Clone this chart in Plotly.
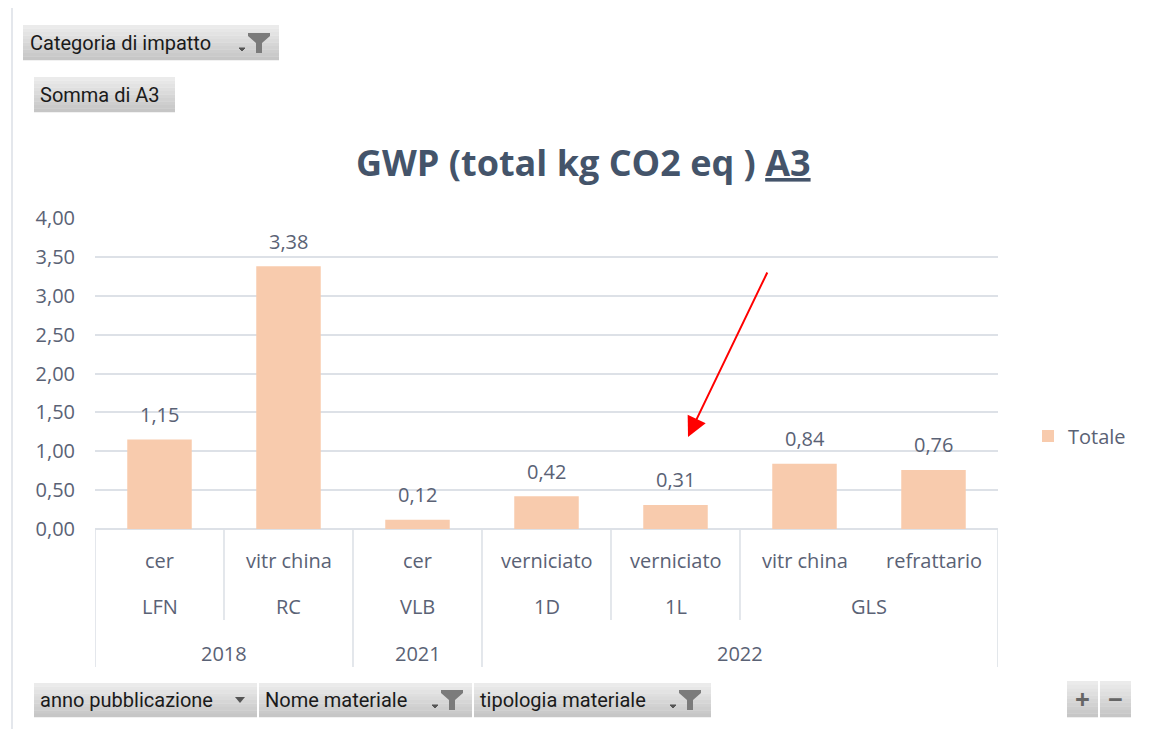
import plotly.graph_objects as go

# ---- data ----
years = ["2018", "2018", "2021", "2022", "2022", "2022", "2022"]
names = ["LFN", "RC", "VLB", "1D", "1L", "GLS", "GLS"]
materials = ["cer", "vitr china", "cer", "verniciato", "verniciato", "vitr china", "refrattario"]
values = [1.15, 3.38, 0.12, 0.42, 0.31, 0.84, 0.76]
series_name = "Totale"
title_text = "GWP (total kg CO2 eq ) <u>A3</u>"

# page body has an 8px margin: figure is placed at (8,8) in the window
OFF = 8
W, H = 1157 - OFF, 729 - OFF
L, R, T, B = 95, 998, 218, 529  # plot area in window pixels


def X(px):
    return (px - L) / (R - L)


def Y(py):
    return (B - py) / (B - T)


BAR = "#F8CBAD"
GRID = "#DDE1E7"
LBL = "#5A6275"
TITLE = "#44546A"
FONT = "'Open Sans', Lato, sans-serif"
BFONT = "Roboto, sans-serif"

idx = list(range(len(values)))

fig = go.Figure()
fig.add_trace(go.Bar(x=idx, y=values, name=series_name, marker=dict(color=BAR, line=dict(width=0)),
                     width=0.5, showlegend=True, hoverinfo="y"))

shapes = []
annots = []

# data labels
for i, v in zip(idx, values):
    annots.append(dict(x=i, y=v, xref="x", yref="y", text=f"{v:.2f}".replace(".", ","),
                       showarrow=False, yanchor="middle", yshift=25,
                       font=dict(family=FONT, size=20, color=LBL)))


def groups(keys):
    out = []
    start = 0
    for i in range(1, len(keys) + 1):
        if i == len(keys) or keys[i] != keys[start]:
            out.append((keys[start], start, i - 1))
            start = i
    return out


row_y = [Y(560), Y(606), Y(653)]
for i, m in enumerate(materials):
    annots.append(dict(x=i, y=row_y[0], xref="x", yref="paper", text=m, showarrow=False,
                       yanchor="middle", font=dict(family=FONT, size=20, color=LBL)))
name_keys = [(y, n) for y, n in zip(years, names)]
for key, a, b in groups(name_keys):
    annots.append(dict(x=(a + b) / 2, y=row_y[1], xref="x", yref="paper", text=key[1], showarrow=False,
                       yanchor="middle", font=dict(family=FONT, size=20, color=LBL)))
for key, a, b in groups(years):
    annots.append(dict(x=(a + b) / 2, y=row_y[2], xref="x", yref="paper", text=key, showarrow=False,
                       yanchor="middle", font=dict(family=FONT, size=20, color=LBL)))

# table vertical lines
deep = Y(667)
mid = Y(620)
bounds = [(-0.5, deep), (len(values) - 0.5, deep)]
for i in range(len(values) - 1):
    if years[i] != years[i + 1]:
        bounds.append((i + 0.5, deep))
    elif names[i] != names[i + 1]:
        bounds.append((i + 0.5, mid))
for xb, yb in bounds:
    shapes.append(dict(type="line", xref="x", yref="paper", x0=xb, x1=xb, y0=0, y1=yb,
                       line=dict(color=GRID, width=1.6)))

# outer chart border
shapes.append(dict(type="path", xref="paper", yref="paper",
                   path=f"M{X(12)},{Y(740)} L{X(12)},{Y(7)} L{X(1152)},{Y(7)} L{X(1152)},{Y(740)}",
                   line=dict(color="#DCE0E6", width=1.5)))


def button(x0, y0, x1, y1, top="#EBEBEB", bot="#C6C6C6", n=10):
    def hx(c):
        return [int(c[k:k + 2], 16) for k in (1, 3, 5)]
    t, b = hx(top), hx(bot)
    h = (y1 - y0) / n
    for k in range(n):
        f = k / (n - 1)
        col = "rgb(%d,%d,%d)" % tuple(round(t[j] + (b[j] - t[j]) * f) for j in range(3))
        shapes.append(dict(type="rect", xref="paper", yref="paper", x0=X(x0), x1=X(x1),
                           y0=Y(y0 + (k + 1) * h + 0.3), y1=Y(y0 + k * h), line=dict(width=0),
                           fillcolor=col, layer="above"))


def funnel(cx, cy):
    p = [(cx - 11, cy), (cx + 11, cy), (cx + 11, cy + 3), (cx + 3, cy + 10), (cx + 3, cy + 20),
         (cx - 3, cy + 20), (cx - 3, cy + 10), (cx - 11, cy + 3)]
    path = "M" + " L".join(f"{X(a)},{Y(b)}" for a, b in p) + " Z"
    shapes.append(dict(type="path", xref="paper", yref="paper", path=path,
                       fillcolor="#7B7B7B", line=dict(width=0), layer="above"))
    q = [(cx - 20, cy + 15), (cx - 14, cy + 15), (cx - 17, cy + 18)]
    path = "M" + " L".join(f"{X(a)},{Y(b)}" for a, b in q) + " Z"
    shapes.append(dict(type="path", xref="paper", yref="paper", path=path,
                       fillcolor="#555555", line=dict(color="#555555", width=1), layer="above"))


def btext(x, y, s, size=20):
    annots.append(dict(x=X(x), y=Y(y), xref="paper", yref="paper", text=s, showarrow=False,
                       xanchor="left", yanchor="middle", font=dict(family=BFONT, size=size, color="#1A1A1A")))


# top buttons
button(23, 25, 279, 60)
btext(28, 43, "Categoria di impatto")
funnel(259, 33)
button(34, 77, 175, 112)
btext(38, 95, "Somma di A3")

# bottom buttons
button(34, 683, 257, 717)
btext(38, 700, "anno pubblicazione")
tri = [(235, 697), (245, 697), (240, 703)]
shapes.append(dict(type="path", xref="paper", yref="paper",
                   path="M" + " L".join(f"{X(a)},{Y(b)}" for a, b in tri) + " Z",
                   fillcolor="#555555", line=dict(width=0), layer="above"))
button(259, 683, 472, 717)
btext(263, 700, "Nome materiale")
funnel(452, 690)
button(474, 683, 711, 717)
btext(478, 700, "tipologia materiale")
funnel(690, 690)

# +/- buttons
button(1067, 681, 1098, 717)
button(1100, 681, 1131, 717)
for cx, sym in ((1082.5, "+"), (1115.5, "−")):
    annots.append(dict(x=X(cx), y=Y(699), xref="paper", yref="paper", text=f"<b>{sym}</b>",
                       showarrow=False, xanchor="center", yanchor="middle",
                       font=dict(family=FONT, size=26, color="#666666")))

# title
annots.append(dict(x=X(583), y=Y(162), xref="paper", yref="paper", text=title_text, showarrow=False,
                   xanchor="center", yanchor="middle",
                   font=dict(family=FONT, size=36, color=TITLE, weight="bold")))

# red arrow
annots.append(dict(x=X(688), y=Y(437), xref="paper", yref="paper", text="", showarrow=True,
                   ax=80, ay=-166, arrowcolor="#FF0000", arrowwidth=2, arrowhead=2, arrowsize=2,
                   standoff=0))

fig.update_layout(
    width=W, height=H,
    margin=dict(l=L - OFF, r=W - (R - OFF), t=T - OFF, b=H - (B - OFF), autoexpand=False),
    paper_bgcolor="white", plot_bgcolor="white",
    separators=",.",
    showlegend=True,
    legend=dict(x=X(1028), y=Y(436), xanchor="left", yanchor="middle", itemwidth=30,
                font=dict(family=FONT, size=20, color=LBL), bgcolor="rgba(0,0,0,0)"),
    xaxis=dict(range=[-0.5, len(values) - 0.5], showticklabels=False, showgrid=False,
               zeroline=False, showline=False, fixedrange=True),
    yaxis=dict(range=[0, 4], tick0=0, dtick=0.5, tickformat=".2f", showgrid=True, gridcolor=GRID,
               gridwidth=1.6, zeroline=True, zerolinecolor=GRID, zerolinewidth=1.6, showline=False,
               ticks="", ticklabelstandoff=19,
               tickfont=dict(family=FONT, size=20, color=LBL), fixedrange=True),
    shapes=shapes,
    annotations=annots,
    bargap=0.5,
)

fig.write_html("out.html")
